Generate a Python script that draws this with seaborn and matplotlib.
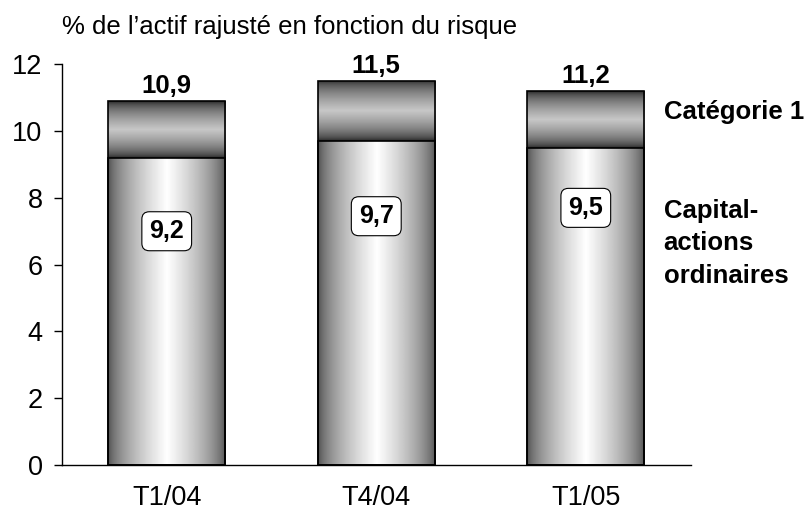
import numpy as np
import pandas as pd
import matplotlib
matplotlib.use("Agg")
import matplotlib.pyplot as plt
import seaborn as sns

# Données
trimestres = ["T1/04", "T4/04", "T1/05"]
capital_actions = [9.2, 9.7, 9.5]
categorie1 = [10.9, 11.5, 11.2]
etiquettes_capital = ["9,2", "9,7", "9,5"]
etiquettes_total = ["10,9", "11,5", "11,2"]
y_etiquettes = [7.0, 7.45, 7.7]

sns.set_theme(style="white")
plt.rcParams['font.family'] = ['Liberation Sans', 'DejaVu Sans']
plt.rcParams['text.color'] = 'black'
plt.rcParams['xtick.color'] = 'black'
plt.rcParams['ytick.color'] = 'black'

df = pd.DataFrame({"trimestre": trimestres, "cap": capital_actions, "tot": categorie1})

fig = plt.figure(figsize=(8.09, 5.22), dpi=100)
ax = fig.add_axes([0.0766, 0.109, 0.777, 0.768])

largeur = 0.56
sns.barplot(data=df, x="trimestre", y="tot", ax=ax, width=largeur, color="white")
sns.barplot(data=df, x="trimestre", y="cap", ax=ax, width=largeur, color="white")

# dégradés
t = np.linspace(0, 1, 256)
horiz = 0.28 + 0.72 * np.clip(1 - np.abs(t - 0.5) / 0.5, 0, 1) ** 0.6
horiz = np.tile(horiz, (2, 1))
vert = 0.10 + 0.68 * np.clip(1 - np.abs(t - 0.5) / 0.5, 0, 1) ** 0.55
vert = np.tile(vert[:, None], (1, 2))

patches = list(ax.patches)
n = len(trimestres)
for i, p in enumerate(patches):
    x, w = p.get_x(), p.get_width()
    if i < n:
        # segment Catégorie 1 (partie supérieure)
        y0, y1 = capital_actions[i], categorie1[i]
        img = vert
    else:
        y0, y1 = 0, capital_actions[i - n]
        img = horiz
    p.set_facecolor("none")
    p.set_edgecolor("black")
    p.set_linewidth(1.2)
    p.set_zorder(3)
    im = ax.imshow(img, extent=[x, x + w, y0, y1], aspect="auto", cmap="gray",
                   vmin=0, vmax=1, zorder=2, interpolation="bilinear")
    im.set_clip_path(p)

for i in range(n):
    ax.text(i, y_etiquettes[i], etiquettes_capital[i], ha="center", va="center",
            fontsize=18, fontweight="bold", zorder=5,
            bbox=dict(boxstyle="round,pad=0.3,rounding_size=0.3", fc="white", ec="black", lw=0.8))
    ax.text(i, categorie1[i] + 0.1, etiquettes_total[i], ha="center", va="bottom",
            fontsize=18.5, fontweight="bold", zorder=5)

ax.set_xlim(-0.5, 2.5)
ax.set_ylim(0, 12)
ax.set_yticks(range(0, 13, 2))
ax.set_xlabel("")
ax.set_ylabel("")
ax.tick_params(axis="y", direction="out", length=6, width=1, color="black", labelsize=19.5, left=True, pad=8)
ax.tick_params(axis="x", length=0, labelsize=19.5, pad=14)
sns.despine(ax=ax)
for s in ["left", "bottom"]:
    ax.spines[s].set_color("black")
    ax.spines[s].set_linewidth(1)

fig.text(0.077, 0.948, "% de l\u2019actif rajusté en fonction du risque", fontsize=18.5, va="center")
ax.text(0.957, 10.56, "Catégorie 1", transform=ax.get_yaxis_transform(), fontsize=18.5,
        fontweight="bold", va="center")
ax.text(0.957, 6.64, "Capital-\nactions\nordinaires", transform=ax.get_yaxis_transform(),
        fontsize=18.5, fontweight="bold", va="center", linespacing=1.45)

fig.savefig("out.png", dpi=100)
